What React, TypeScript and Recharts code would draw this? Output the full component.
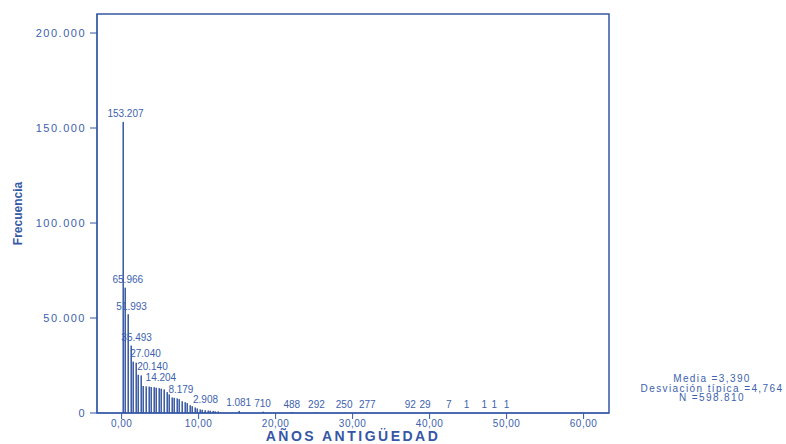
import {
  ComposedChart,
  Bar,
  Scatter,
  LabelList,
  XAxis,
  YAxis,
  ReferenceArea,
} from 'recharts';

// Colores y tipografía del gráfico SPSS
const BLUE = '#3557a5';
const BAR_BLUE = '#2a4d9c';
const TEXT_BLUE = '#3d5fae';
const FONT = '"Liberation Sans", Arial, sans-serif';

// Histograma: barras de 1/3 de año (4 meses)
const BIN_WIDTH = 1 / 3;
const binFreq = [
  153207, 65966, 51993, 35493, 27040, 26500, 20140, 19800,
  14204, 14050, 13900, 13700, 13600, 13300, 13100, 12800, 12400,
  11000, 9800, 8179, 8000, 7700, 7300, 6200, 5700, 5200, 4100, 3600,
  2908, 2400, 1900, 1700, 1500, 1300, 1200, 1081, 900, 850,
];

// Cola de la distribución (años, frecuencia)
const tailYears = [15.2, 18.3, 22.1, 25.3, 28.9, 31.9, 37.5, 39.4, 42.5, 44.8, 47.1, 48.4, 50.0];
const tailFreq = [1081, 710, 488, 292, 250, 277, 92, 29, 7, 1, 1, 1, 1];

// Etiquetas de frecuencia sobre las barras
const labelYears = [0.5, 0.8, 1.3, 1.95, 3.1, 4.0, 5.1, 7.7, 10.9, 15.2, 18.3, 22.1, 25.3, 28.9, 31.9, 37.5, 39.4, 42.5, 44.8, 47.1, 48.4, 50.0];
const labelValues = [153207, 65966, 51993, 35493, 27040, 20140, 14204, 8179, 2908, 1081, 710, 488, 292, 250, 277, 92, 29, 7, 1, 1, 1, 1];

const xTicks = [0, 10, 20, 30, 40, 50, 60];
const yTicks = [0, 50000, 100000, 150000, 200000];

const stats = ['Media =3,390', 'Desviación típica =4,764', 'N =598.810'];

const X_DOMAIN: [number, number] = [-3.2, 63.3];
const Y_DOMAIN: [number, number] = [0, 210000];

const fmtMiles = (v: number) => v.toLocaleString('de-DE');
const fmtAnios = (v: number) => v.toFixed(2).replace('.', ',');

// barra fina tipo "trama" vertical, alineada al píxel
function LineBar(props: any) {
  const { x, y, width, height } = props;
  if (!height || height <= 0) return <g />;
  const cx = Math.round(x + width / 2);
  return <rect x={cx - 0.5} y={y} width={1.4} height={height} fill={BAR_BLUE} />;
}

export default function App() {
  const bars = [
    ...binFreq.map((f, i) => ({ year: i * BIN_WIDTH + BIN_WIDTH / 2, freq: f })),
    ...tailYears.map((y, i) => ({ year: y, freq: tailFreq[i] })),
  ];
  const labels = labelYears.map((y, i) => ({
    year: y,
    value: labelValues[i],
    text: fmtMiles(labelValues[i]),
  }));

  return (
    <div style={{ position: 'absolute', left: 0, top: 0, width: 786, height: 444, background: '#fff', fontFamily: FONT }}>
      <ComposedChart width={786} height={444} data={bars} margin={{ top: 14, right: 177, bottom: 0, left: 0 }}>
        <XAxis
          type="number"
          dataKey="year"
          domain={X_DOMAIN}
          ticks={xTicks}
          allowDataOverflow
          tickFormatter={fmtAnios}
          height={31}
          stroke={BLUE}
          tickSize={6}
          tickMargin={1}
          tick={{ fill: TEXT_BLUE, fontSize: 10, fontFamily: FONT, letterSpacing: 0.5 }}
          label={{
            value: 'AÑOS ANTIGÜEDAD',
            position: 'insideBottom',
            offset: 3,
            style: { fill: BLUE, fontSize: 14, fontWeight: 'bold', fontFamily: FONT, letterSpacing: 2.5 },
          }}
        />
        <YAxis
          type="number"
          domain={Y_DOMAIN}
          ticks={yTicks}
          allowDataOverflow
          tickFormatter={fmtMiles}
          width={97}
          stroke={BLUE}
          tickSize={7}
          tickMargin={4}
          tick={{ fill: TEXT_BLUE, fontSize: 11, fontFamily: FONT, letterSpacing: 1.5 }}
          label={{
            value: 'Frecuencia',
            angle: -90,
            position: 'insideLeft',
            offset: 18,
            style: { textAnchor: 'middle', fill: BLUE, fontSize: 12, fontWeight: 'bold', fontFamily: FONT },
          }}
        />
        <ReferenceArea
          x1={X_DOMAIN[0]}
          x2={X_DOMAIN[1]}
          y1={Y_DOMAIN[0]}
          y2={Y_DOMAIN[1]}
          fill="none"
          stroke={BLUE}
          strokeWidth={1.5}
          ifOverflow="visible"
        />
        <Bar dataKey="freq" barSize={1.5} fill={BAR_BLUE} shape={LineBar} isAnimationActive={false} />
        <Scatter data={labels} dataKey="value" shape={() => <g />} isAnimationActive={false}>
          <LabelList dataKey="text" position="top" offset={0} fill={TEXT_BLUE} fontSize={10} fontFamily={FONT} />
        </Scatter>
      </ComposedChart>
      {/* Estadísticos a la derecha */}
      <div
        style={{
          position: 'absolute',
          left: 632,
          top: 374,
          width: 160,
          textAlign: 'center',
          fontSize: 10,
          lineHeight: '9.5px',
          letterSpacing: 1.4,
          color: TEXT_BLUE,
          whiteSpace: 'nowrap',
        }}
      >
        {stats.map((s) => (
          <div key={s}>{s}</div>
        ))}
      </div>
    </div>
  );
}
